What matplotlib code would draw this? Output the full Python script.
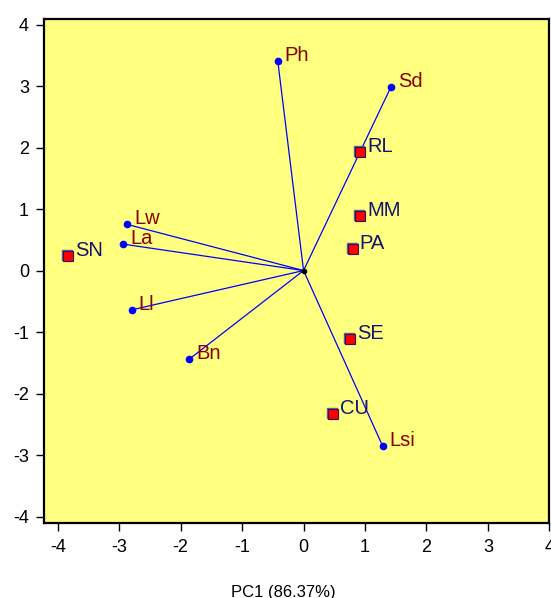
import matplotlib.pyplot as plt
from matplotlib.transforms import offset_copy

plt.rcParams['font.family'] = ['Liberation Sans', 'DejaVu Sans']
plt.rcParams['axes.unicode_minus'] = False

# variable loadings (vectors from the origin)
var_names = ["Ph", "Sd", "Lw", "La", "Ll", "Bn", "Lsi"]
var_x = [-0.42, 1.42, -2.87, -2.94, -2.80, -1.86, 1.29]
var_y = [3.41, 2.98, 0.75, 0.43, -0.64, -1.44, -2.86]

# sample scores
obs_names = ["SN", "RL", "MM", "PA", "SE", "CU"]
obs_x = [-3.83, 0.92, 0.92, 0.80, 0.76, 0.48]
obs_y = [0.24, 1.93, 0.89, 0.35, -1.11, -2.34]

xticks = [-4, -3, -2, -1, 0, 1, 2, 3, 4]
yticks = [-4, -3, -2, -1, 0, 1, 2, 3, 4]

var_color = "#8b0000"
obs_color = "#141470"
line_color = "#0000ff"

fig = plt.figure(figsize=(5.51, 5.98), dpi=100)
ax = fig.add_axes([0.0804, 0.1249, 0.9165, 0.8433])
ax.set_facecolor("#ffff80")

for x, y in zip(var_x, var_y):
    ax.plot([0, x], [0, y], color=line_color, lw=0.9, zorder=2)
ax.plot(var_x, var_y, 'o', color=line_color, ms=4.5, zorder=3)
ax.plot([0], [0], 'o', color="black", ms=3, zorder=4)

for name, x, y in zip(var_names, var_x, var_y):
    ax.annotate(name, (x, y), xytext=(5, 0), textcoords="offset points",
                color=var_color, fontsize=14.5, va="baseline", ha="left")

# squares with a slight shadow
shadow = offset_copy(ax.transData, fig=fig, x=-0.7, y=0.7, units="points")
ax.plot(obs_x, obs_y, 's', color="#606088", ms=7, transform=shadow, zorder=4)
ax.plot(obs_x, obs_y, 's', mfc="#ff0000", mec="#301060", mew=0.8, ms=7, zorder=5)

for name, x, y in zip(obs_names, obs_x, obs_y):
    ax.annotate(name, (x, y), xytext=(5, 0), textcoords="offset points",
                color=obs_color, fontsize=14.5, va="baseline", ha="left")

ax.set_xlim(-4.22, 4.0)
ax.set_ylim(-4.11, 4.09)
ax.set_xticks(xticks)
ax.set_yticks(yticks)
ax.tick_params(direction="out", length=6, width=1, labelsize=13, pad=5)
for sp in ax.spines.values():
    sp.set_linewidth(1.6)

fig.text(283 / 551, 0.002, "PC1 (86.37%)", ha="center", va="baseline", fontsize=12)

fig.savefig("out.png", dpi=100)
